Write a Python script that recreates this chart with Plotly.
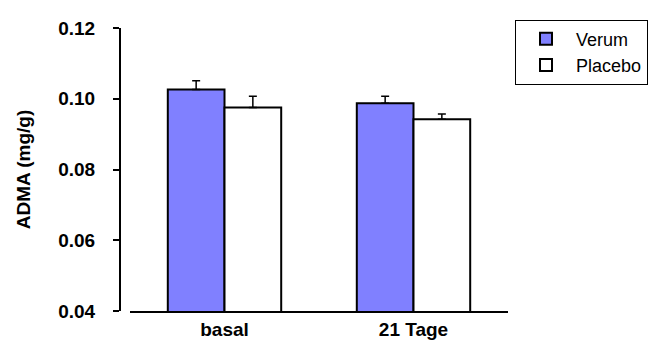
import plotly.graph_objects as go

categories = ["basal", "21 Tage"]
verum = [0.1026, 0.0987]
verum_err = [0.0025, 0.0020]
placebo = [0.0975, 0.0942]
placebo_err = [0.0032, 0.0015]
y_ticks = [0.04, 0.06, 0.08, 0.10, 0.12]
y_ticktext = ["0.04", "0.06", "0.08", "0.10", "0.12"]

font_family = "Liberation Sans, Arial, sans-serif"

fig = go.Figure()
fig.add_trace(go.Bar(
    name="Verum", x=categories, y=verum,
    marker=dict(color="#8080FF", line=dict(color="black", width=2)),
    error_y=dict(type="data", array=verum_err, arrayminus=[0, 0], symmetric=False,
                 color="black", thickness=1.5, width=4),
))
fig.add_trace(go.Bar(
    name="Placebo", x=categories, y=placebo,
    marker=dict(color="white", line=dict(color="black", width=2)),
    error_y=dict(type="data", array=placebo_err, arrayminus=[0, 0], symmetric=False,
                 color="black", thickness=1.5, width=4),
))

fig.update_layout(
    width=661, height=340,
    margin=dict(l=112, r=161, t=20, b=37, autoexpand=False),
    paper_bgcolor="white", plot_bgcolor="white",
    barmode="group", bargap=0.4, bargroupgap=0,
    font=dict(family=font_family, color="black", size=19),
    showlegend=True,
    legend=dict(
        x=1.018, y=1.03, xanchor="left", yanchor="top",
        bordercolor="black", borderwidth=1, bgcolor="white",
        font=dict(family=font_family, size=18, color="black"),
        itemwidth=50, tracegroupgap=0,
    ),
    xaxis=dict(
        domain=[10 / 388, 1], range=[-0.5, 1.5],
        showline=True, linecolor="black", linewidth=2,
        ticks="", showgrid=False, zeroline=False,
        tickfont=dict(family=font_family, size=19, color="black", weight="bold"),
        ticklabelstandoff=0,
    ),
    yaxis=dict(
        anchor="free", position=0,
        range=[0.04, 0.12],
        tickvals=y_ticks, ticktext=y_ticktext,
        showline=True, linecolor="black", linewidth=2,
        ticks="outside", ticklen=6, tickwidth=2, tickcolor="black",
        showgrid=False, zeroline=False,
        tickfont=dict(family=font_family, size=19, color="black", weight="bold"),
        ticklabelstandoff=14,
        title=dict(text="ADMA (mg/g)", standoff=22,
                   font=dict(family=font_family, size=19, color="black", weight="bold")),
    ),
)

fig.write_html("out.html")
